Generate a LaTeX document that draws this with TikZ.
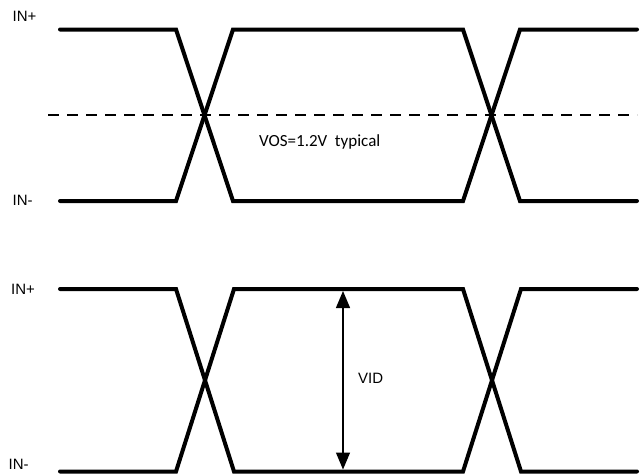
\documentclass[tikz,border=0pt]{standalone}
\usepackage{fontspec}
\setmainfont{Liberation Sans}
\newfontfamily\calfont{Carlito}
\usetikzlibrary{arrows.meta}
\tikzset{
  wave/.style={line width=4pt, line cap=round, line join=miter},
  refline/.style={line width=1.3pt, dash pattern=on 11pt off 8pt},
  lbl/.style={inner sep=0pt, anchor=base west, font=\fontsize{15}{18}\selectfont},
  vidarrow/.style={line width=1.3pt, {Triangle[width=14pt,length=17pt]}-{Triangle[width=14pt,length=17pt]}}
}
\begin{document}
\begin{tikzpicture}[x=1pt,y=-1pt]
\useasboundingbox (0,0) rectangle (642,474);
% top diagram
\draw[refline] (48,115) -- (637,115);
\draw[wave] (60,29.5) -- (176,29.5) -- (233,201) -- (463,201) -- (520,29.5) -- (637,29.5);
\draw[wave] (60,201) -- (176,201) -- (233,29.5) -- (463,29.5) -- (520,201) -- (637,201);
\node[lbl] (inp1) at (12.5,21.7) {IN+};
\node[lbl] (inm1) at (12.5,205) {IN-};
\node[inner sep=0pt, anchor=base west, font=\calfont\fontsize{17}{20}\selectfont] (vos) at (259,146.5) {VOS=1.2V\ \ typical};
% bottom diagram
\draw[wave] (60,289) -- (176,289) -- (234,471.5) -- (463,471.5) -- (521,289) -- (637,289);
\draw[wave] (60,471.5) -- (176,471.5) -- (234,289) -- (463,289) -- (521,471.5) -- (637,471.5);
\node[lbl] (inp2) at (11,294) {IN+};
\node[lbl] (inm2) at (8.5,469) {IN-};
\coordinate (vtop) at (343,291);
\coordinate (vbot) at (343,469.5);
\draw[vidarrow] (vtop) -- (vbot);
\node[lbl] (vid) at (358,383.3) {VID};
\end{tikzpicture}
\end{document}
